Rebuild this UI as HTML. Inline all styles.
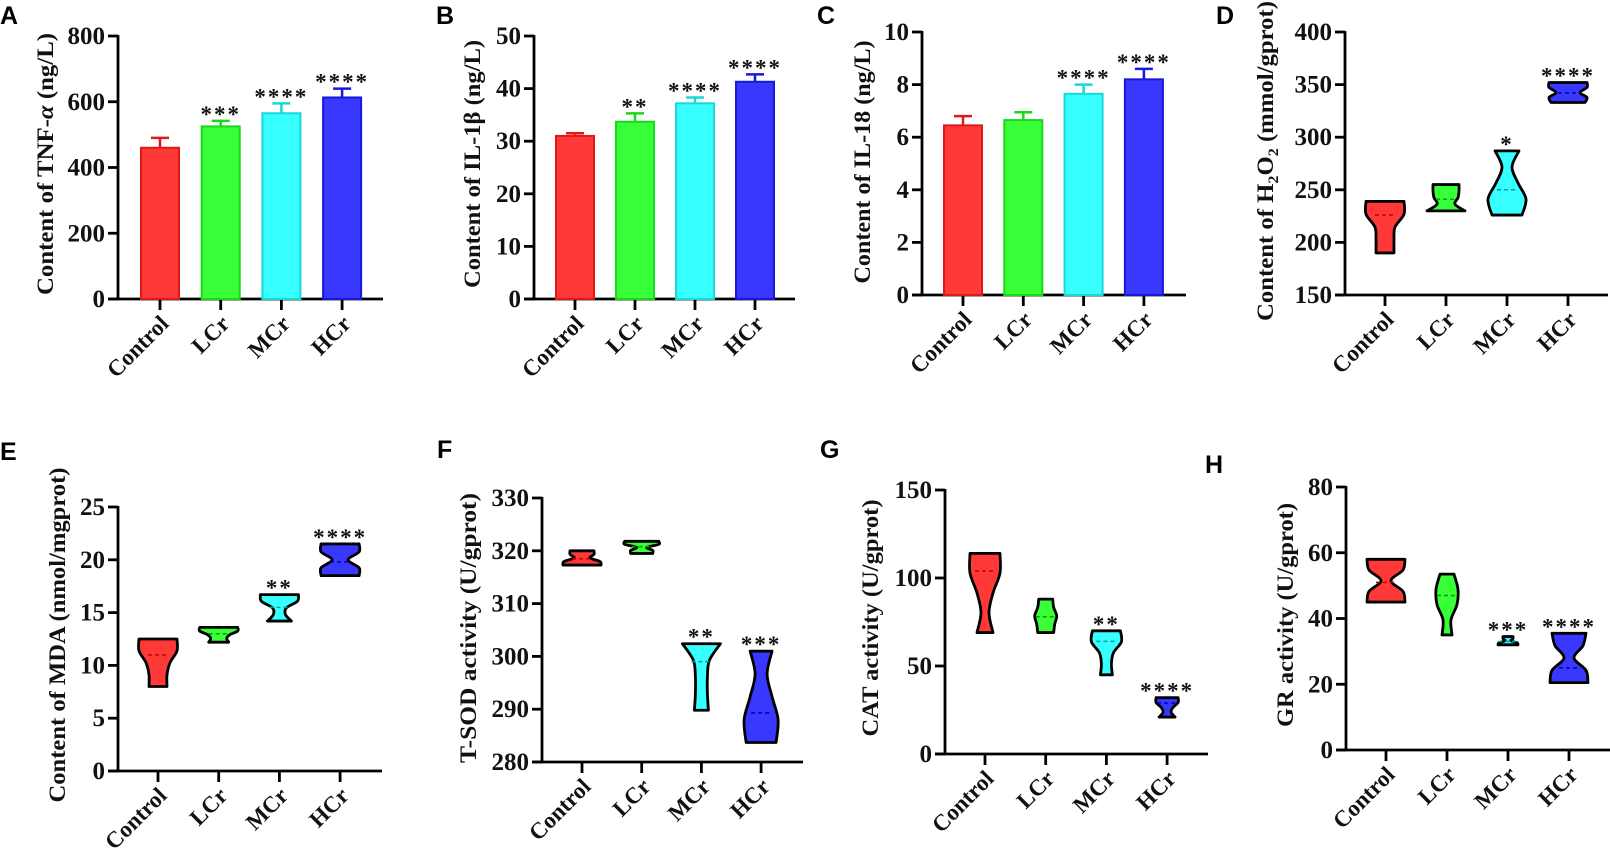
<!DOCTYPE html>
<html><head><meta charset="utf-8"><style>
body{margin:0;background:#fff}
svg{display:block}
text{font-family:"Liberation Serif",serif;font-weight:bold;fill:#111}
.lab{font-family:"Liberation Sans",sans-serif;font-size:25px;fill:#000}
</style></head><body>
<svg id="fig" width="1610" height="859" viewBox="0 0 1610 859" xmlns="http://www.w3.org/2000/svg"></svg>
<script>
const categories = ["Control","LCr","MCr","HCr"];
const fills = ["#ff3838","#38ff38","#38ffff","#3838ff"];
const edges = ["#e01818","#18d818","#18d8d8","#1818d8"];
const darks = ["#c00000","#00a000","#00a0a0","#0000b0"];

// Bar panels
const aMeans=[460,525,565,613], aErr=[30,17,30,27], aStars=["","***","****","****"], aTicks=[0,200,400,600,800];
const bMeans=[31,33.7,37.2,41.3], bErr=[0.5,1.6,1.1,1.4], bStars=["","**","****","****"], bTicks=[0,10,20,30,40,50];
const cMeans=[6.45,6.65,7.65,8.2], cErr=[0.35,0.3,0.35,0.4], cStars=["","","****","****"], cTicks=[0,2,4,6,8,10];

// Violin panels: min, max, median, density profile (bottom->top)
const dLo=[190,230,226,333], dHi=[239,255,287,352], dMed=[226,241,250,342];
const dDens=[[0.45,0.45,0.5,0.95,0.95],[0.95,0.45,0.6,0.65,0.65],[0.75,0.95,0.55,0.25,0.6],[0.85,0.95,0.6,0.95,0.95]];
const dStars=["","","*","****"], dTicks=[150,200,250,300,350,400];
const eLo=[8,12.2,14.2,18.5], eHi=[12.5,13.6,16.7,21.5], eMed=[11,13,15.5,19.8];
const eDens=[[0.45,0.45,0.6,0.95,0.95],[0.5,0.4,0.55,0.95,0.95],[0.6,0.3,0.35,0.9,0.95],[0.95,0.95,0.4,0.95,0.95]];
const eStars=["","","**","****"], eTicks=[0,5,10,15,20,25];
const fLo=[317.3,319.5,289.8,283.7], fHi=[320,321.8,302.4,301], fMed=[318.5,320.8,299,289.3];
const fDens=[[0.95,0.9,0.4,0.6,0.6],[0.55,0.55,0.25,0.85,0.85],[0.35,0.3,0.3,0.4,0.95],[0.75,0.85,0.55,0.3,0.55]];
const fStars=["","","**","***"], fTicks=[280,290,300,310,320,330];
const gLo=[69,69,45,21], gHi=[114,88,70,32], gMed=[104,78,64,29];
const gDens=[[0.4,0.2,0.4,0.75,0.75],[0.4,0.45,0.55,0.4,0.35],[0.3,0.25,0.35,0.75,0.7],[0.4,0.2,0.3,0.55,0.55]];
const gStars=["","","**","****"], gTicks=[0,50,100,150];
const hLo=[45,35,32,20.5], hHi=[58,53.5,34.5,35.5], hMed=[51,47,33,25];
const hDens=[[0.95,0.85,0.25,0.85,0.95],[0.25,0.2,0.5,0.55,0.35],[0.5,0.45,0.15,0.25,0.25],[0.95,0.85,0.25,0.7,0.85]];
const hStars=["","","***","****"], hTicks=[0,20,40,60,80];

const NS="http://www.w3.org/2000/svg";
const svg=document.getElementById('fig');
function mk(tag,attrs,parent){const e=document.createElementNS(NS,tag);for(const k in attrs)e.setAttribute(k,attrs[k]);(parent||svg).appendChild(e);return e;}

function smooth(pts){ // catmull-rom through points, returns segment string (no initial M)
  let s='';
  for(let k=0;k<pts.length-1;k++){
    const p0=pts[Math.max(k-1,0)],p1=pts[k],p2=pts[k+1],p3=pts[Math.min(k+2,pts.length-1)];
    const c1=[p1[0]+(p2[0]-p0[0])/6,p1[1]+(p2[1]-p0[1])/6];
    const c2=[p2[0]-(p3[0]-p1[0])/6,p2[1]-(p3[1]-p1[1])/6];
    s+=` C${c1[0]},${c1[1]} ${c2[0]},${c2[1]} ${p2[0]},${p2[1]}`;
  }
  return s;
}

function panel(p){
  const g=mk('g',{});
  
  
  const t0=p.ticks[0], t1=p.ticks[p.ticks.length-1];
  const y=v=>p.yBot-(v-t0)/(t1-t0)*(p.yBot-p.yTop);
  const xs=i=>p.x0+i*p.dx;
  const L=mk('text',{x:p.lx,y:p.ly,class:'lab'},g);L.textContent=p.key.toUpperCase();
  
  
  const ya=mk('line',{x1:p.ax,y1:p.yTop-1,x2:p.ax,y2:p.yBot,stroke:'#000','stroke-width':2.8},g);
  
  
  const xa=mk('line',{x1:p.ax-10,y1:p.yBot,x2:p.xEnd,y2:p.yBot,stroke:'#000','stroke-width':2.8},g);
  
  
  p.ticks.forEach(v=>{
    mk('line',{x1:p.ax-10,y1:y(v),x2:p.ax,y2:y(v),stroke:'#000','stroke-width':2.8},g);
    const t=mk('text',{x:p.ax-13,y:y(v)+8,'text-anchor':'end','font-size':25},g);t.textContent=v;
    
    
  });
  categories.forEach((c,i)=>{
    mk('line',{x1:xs(i),y1:p.yBot,x2:xs(i),y2:p.yBot+11,stroke:'#000','stroke-width':2.8},g);
    const t=mk('text',{transform:`translate(${xs(i)+10},${p.yBot+26}) rotate(-45)`,'text-anchor':'end','font-size':23},g);t.textContent=c;
    
    
  });
  const yt=mk('text',{transform:`translate(${p.tx+8},${p.tyc}) rotate(-90)`,'text-anchor':'middle','font-size':23,textLength:p.tlen,lengthAdjust:'spacingAndGlyphs'},g);
  yt.innerHTML=p.title;
  
  
  categories.forEach((c,i)=>{
    let top;
    if(p.means){
      const bw=38, yt2=y(p.means[i]);
      const r=mk('rect',{x:xs(i)-bw/2,y:yt2,width:bw,height:p.yBot-yt2,fill:fills[i],stroke:edges[i],'stroke-width':2},g);
      
      
      const ye=y(p.means[i]+p.err[i]);
      mk('path',{d:`M${xs(i)},${yt2}V${ye}M${xs(i)-9},${ye}H${xs(i)+9}`,stroke:edges[i],'stroke-width':2.5,fill:'none'},g);
      top=ye;
    } else {
      const lo=p.lo[i], hi=p.hi[i], d=p.dens[i], n=d.length;
      const pts=d.map((w,k)=>[w*20, y(lo+(hi-lo)*k/(n-1))]);
      const right=pts.map(q=>[xs(i)+q[0],q[1]]);
      const left=pts.slice().reverse().map(q=>[xs(i)-q[0],q[1]]);
      let path=`M${right[0][0]},${right[0][1]}`+smooth(right)+` L${left[0][0]},${left[0][1]}`+smooth(left)+'Z';
      const v=mk('path',{d:path,fill:fills[i],stroke:'#000','stroke-width':2.8,'stroke-linejoin':'round'},g);
      
      
      const my=y(p.med[i]);
      mk('line',{x1:xs(i)-10,y1:my,x2:xs(i)+10,y2:my,stroke:darks[i],'stroke-width':1.5,'stroke-dasharray':'4 3'},g);
      top=y(hi);
    }
    if(p.stars[i]){
      const s=mk('text',{x:xs(i),y:top+1,'text-anchor':'middle','font-size':23,'font-weight':'normal','letter-spacing':2,fill:'#333'},g);
      s.textContent=p.stars[i];
      
      
    }
  });
}

panel({key:'a',lx:0,ly:24,ax:118,yTop:36,yBot:299,x0:160,dx:60.7,xEnd:383,ticks:aTicks,means:aMeans,err:aErr,stars:aStars,tx:45,tyc:164,tlen:262,title:'Content of TNF-<tspan font-style="italic">α</tspan> (ng/L)'});
panel({key:'b',lx:436,ly:24,ax:534,yTop:36,yBot:299,x0:575,dx:60,xEnd:795,ticks:bTicks,means:bMeans,err:bErr,stars:bStars,tx:472,tyc:164,tlen:248,title:'Content of IL-1β (ng/L)'});
panel({key:'c',lx:817,ly:24,ax:922,yTop:32,yBot:295,x0:963,dx:60.3,xEnd:1186,ticks:cTicks,means:cMeans,err:cErr,stars:cStars,tx:862,tyc:162,tlen:243,title:'Content of IL-18 (ng/L)'});
panel({key:'d',lx:1216,ly:24,ax:1345,yTop:32,yBot:295,x0:1385,dx:61,xEnd:1608,ticks:dTicks,lo:dLo,hi:dHi,med:dMed,dens:dDens,stars:dStars,tx:1265,tyc:161,tlen:320,title:'Content of H<tspan font-size="15" dy="5">2</tspan><tspan dy="-5">O</tspan><tspan font-size="15" dy="5">2</tspan><tspan dy="-5"> (mmol/gprot)</tspan>'});
panel({key:'e',lx:0,ly:460,ax:118,yTop:507,yBot:771,x0:158,dx:60.7,xEnd:382,ticks:eTicks,lo:eLo,hi:eHi,med:eMed,dens:eDens,stars:eStars,tx:57,tyc:635,tlen:335,title:'Content of MDA (nmol/mgprot)'});
panel({key:'f',lx:437,ly:458,ax:542,yTop:498,yBot:762,x0:582,dx:59.7,xEnd:803,ticks:fTicks,lo:fLo,hi:fHi,med:fMed,dens:fDens,stars:fStars,tx:468,tyc:628,tlen:270,title:'T-SOD activity  (U/gprot)'});
panel({key:'g',lx:820,ly:458,ax:945,yTop:490,yBot:754,x0:985,dx:60.7,xEnd:1208,ticks:gTicks,lo:gLo,hi:gHi,med:gMed,dens:gDens,stars:gStars,tx:870,tyc:618,tlen:237,title:'CAT activity (U/gprot)'});
panel({key:'h',lx:1205,ly:473,ax:1346,yTop:487,yBot:750,x0:1386,dx:61,xEnd:1610,ticks:hTicks,lo:hLo,hi:hHi,med:hMed,dens:hDens,stars:hStars,tx:1285,tyc:615,tlen:224,title:'GR activity (U/gprot)'});
</script>
</body></html>
